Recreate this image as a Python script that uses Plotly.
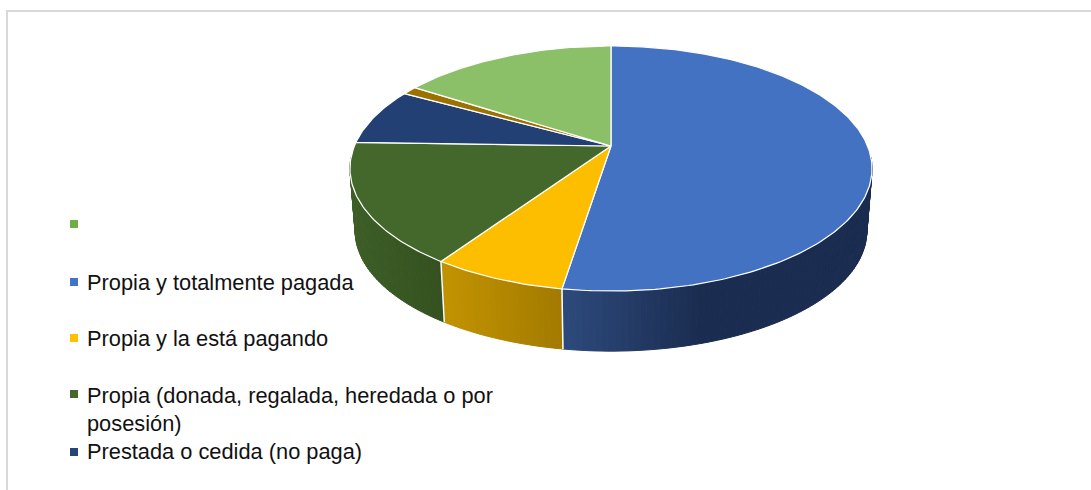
import math

import plotly.graph_objects as go

# tenure shares, clockwise from 12 o'clock
slice_names = [
    "Propia y totalmente pagada",
    "Propia y la está pagando",
    "Propia (donada, regalada, heredada o por posesión)",
    "Prestada o cedida (no paga)",
    "Otra",
    "",
]
slice_values = [52.5, 7.0, 16.0, 7.5, 1.1, 15.9]
slice_colors = ["#4472C2", "#FDBE00", "#44682B", "#234075", "#9B7100", "#8BC068"]

# wall shading per slice (left colour, right colour), only front slices show
wall_colors = {
    0: ("#2D4A7C", "#1A2C50"),
    1: ("#C29300", "#A37A00"),
    2: ("#3D5E27", "#34511F"),
}

legend_labels = [
    "",
    "Propia y totalmente pagada",
    "Propia y la está pagando",
    "Propia (donada, regalada, heredada o por<br>posesión)",
    "Prestada o cedida (no paga)",
]
legend_colors = ["#70AD47", "#4472C4", "#FFC000", "#44682B", "#264478"]
legend_y = [224, 282, 338, 394, 452]
legend_text_y = [224, 282, 338, 409, 451]

# pie geometry in page pixels; perspective squeezes the back half
CX, CY = 611, 146
A, B, K = 118.4, 256.6, 0.1837
DEPTH, BOTTOM_SCALE = 63, 0.98


def project(share, scale=1.0, dy=0.0):
    t = 2 * math.pi * share / 100
    x, y = math.sin(t), math.cos(t)
    w = 1 + K * y
    return CX + scale * B * x / w, CY + dy - scale * A * y / w


def mix(c1, c2, f):
    a = [int(c1[i:i + 2], 16) for i in (1, 3, 5)]
    b = [int(c2[i:i + 2], 16) for i in (1, 3, 5)]
    return "#%02x%02x%02x" % tuple(round(p + (q - p) * f) for p, q in zip(a, b))


def poly(xs, ys, fill, line=None, width=0):
    return go.Scatter(
        x=xs, y=ys, mode="lines", fill="toself", fillcolor=fill,
        line=dict(color=line or fill, width=width),
        hoverinfo="skip", showlegend=False,
    )


fig = go.Figure()

# slice limits
edges = [0]
for v in slice_values:
    edges.append(edges[-1] + v)

# visible wall runs from the right extreme round the front to the left extreme
WALL_START, WALL_END = 26.5, 73.5

for i, (lo, hi) in enumerate(zip(edges, edges[1:])):
    if i not in wall_colors:
        continue
    lo2, hi2 = max(lo, WALL_START), min(hi, WALL_END)
    n = max(4, int((hi2 - lo2) * 3))
    left, right = wall_colors[i]
    x_left = project(hi2)[0]
    # the blue wall reaches its darkest value part way along
    x_right = project(lo2)[0] if i != 0 else x_left + 140
    for j in range(n):
        s0 = lo2 + (hi2 - lo2) * j / n
        s1 = lo2 + (hi2 - lo2) * (j + 1) / n
        p0, p1 = project(s0), project(s1)
        q0, q1 = project(s0, BOTTOM_SCALE, DEPTH), project(s1, BOTTOM_SCALE, DEPTH)
        f = min(1, max(0, (0.5 * (p0[0] + p1[0]) - x_left) / (x_right - x_left)))
        col = mix(left, right, f)
        fig.add_trace(poly(
            [p0[0], p1[0], q1[0], q0[0], p0[0]],
            [p0[1], p1[1], q1[1], q0[1], p0[1]],
            col, col, 1,
        ))

# white seams between front walls
for s in edges[1:3]:
    p, q = project(s), project(s, BOTTOM_SCALE, DEPTH)
    fig.add_trace(go.Scatter(
        x=[p[0], q[0]], y=[p[1], q[1]], mode="lines",
        line=dict(color="#FFFFFF", width=1.5), hoverinfo="skip", showlegend=False,
    ))

# top face
for i, (lo, hi) in enumerate(zip(edges, edges[1:])):
    n = max(4, int((hi - lo) * 4))
    rim = [project(lo + (hi - lo) * j / n) for j in range(n + 1)]
    xs = [CX] + [p[0] for p in rim] + [CX]
    ys = [CY] + [p[1] for p in rim] + [CY]
    fig.add_trace(poly(xs, ys, slice_colors[i], "#FFFFFF", 1.25))

# legend, drawn by hand because the entries sit at uneven spacing
fig.add_trace(go.Scatter(
    x=[74] * len(legend_y), y=legend_y, mode="markers",
    marker=dict(symbol="square", size=8, color=legend_colors),
    hoverinfo="skip", showlegend=False,
))
for label, y in zip(legend_labels, legend_text_y):
    if label:
        fig.add_annotation(
            x=85, y=y, text=label, showarrow=False, xanchor="left", yanchor="middle",
            align="left", font=dict(family="Liberation Sans, Arial", size=21.8, color="#111111"),
        )

# chart frame: top and left only are in view
fig.add_shape(type="line", x0=6, x1=1091, y0=11, y1=11, line=dict(color="#D9D9D9", width=2))
fig.add_shape(type="line", x0=7, x1=7, y0=10, y1=490, line=dict(color="#D9D9D9", width=2))

fig.update_layout(
    width=1091,
    height=490,
    margin=dict(l=0, r=0, t=0, b=0),
    paper_bgcolor="#FFFFFF",
    plot_bgcolor="#FFFFFF",
    showlegend=False,
    xaxis=dict(range=[0, 1091], visible=False, fixedrange=True),
    yaxis=dict(range=[490, 0], visible=False, fixedrange=True),
)

# page default margin would push the chart 8px off
fig.write_html(
    "out.html",
    config={"displayModeBar": False},
    post_script="document.body.style.margin='0';",
)
